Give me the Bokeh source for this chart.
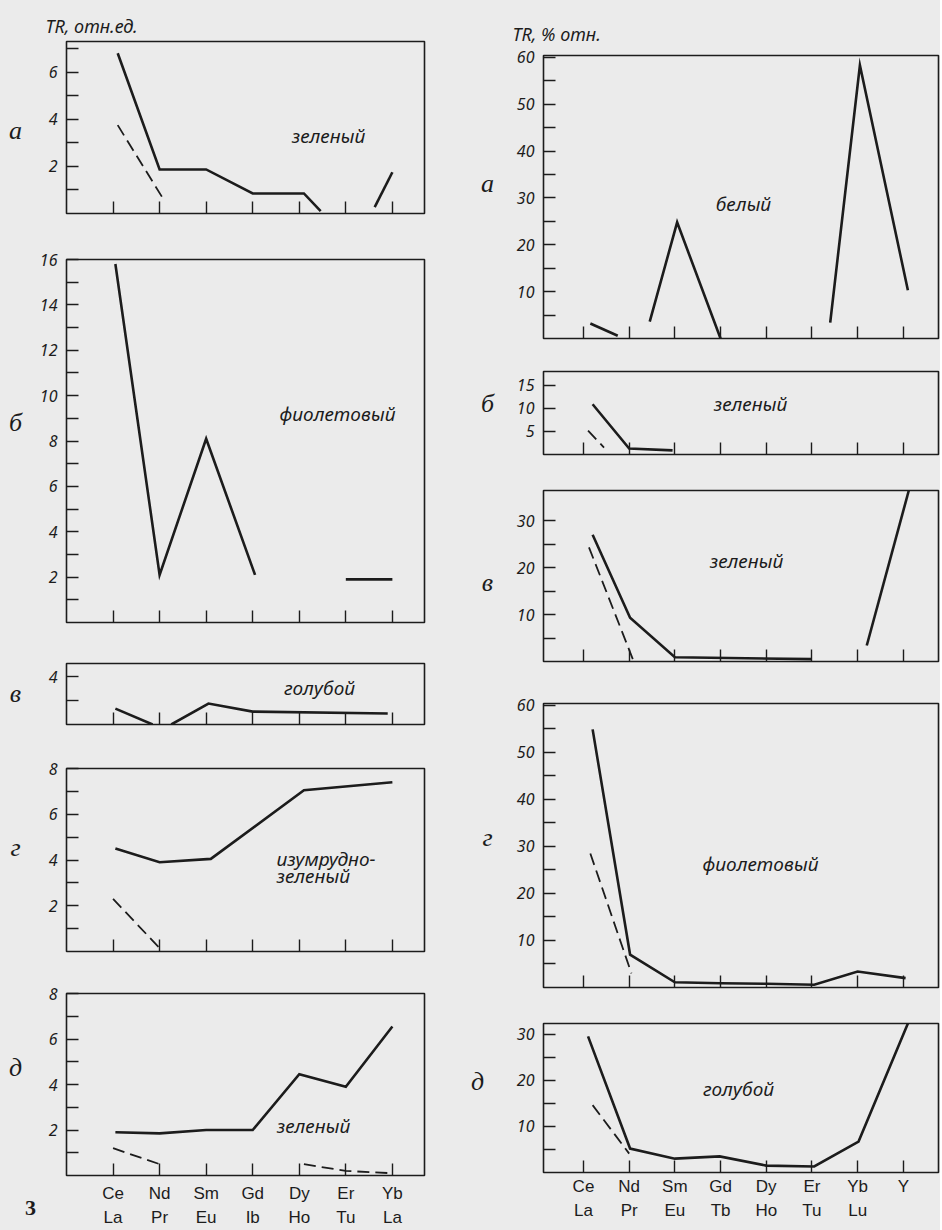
from bokeh.plotting import figure
from bokeh.layouts import row, column
from bokeh.models import FixedTicker, Label, Range1d, Title
from bokeh.embed import file_html
from bokeh.resources import INLINE

# ---------------- data ----------------
cats_left = ["Ce\nLa", "Nd\nPr", "Sm\nEu", "Gd\nIb", "Dy\nHo", "Er\nTu", "Yb\nLa"]
cats_right = ["Ce\nLa", "Nd\nPr", "Sm\nEu", "Gd\nTb", "Dy\nHo", "Er\nTu", "Yb\nLu", "Y"]

# Left column: TR, relative units.  Each series = list of (element positions, values) segments
left_a_solid = [([1.1, 2.0, 3.0, 4.0, 5.1, 5.46], [6.8, 1.87, 1.87, 0.85, 0.85, 0.1]),
                ([6.62, 7.0], [0.27, 1.75])]
left_a_dash = [([1.1, 2.1], [3.75, 0.55])]

left_b_solid = [([1.05, 2.0, 3.0, 4.05], [15.8, 2.1, 8.1, 2.1]),
                ([6.0, 7.0], [1.9, 1.9])]
left_b_dash = []

left_v_solid = [([1.05, 1.85], [1.33, 0.0]),
                ([2.25, 3.05, 4.0, 6.9], [0.0, 1.75, 1.08, 0.92])]
left_v_dash = []

left_g_solid = [([1.05, 2.0, 3.1, 5.1, 7.0], [4.5, 3.9, 4.05, 7.05, 7.4])]
left_g_dash = [([1.0, 2.0], [2.3, 0.15])]

left_d_solid = [([1.05, 2.0, 3.0, 4.0, 5.0, 6.0, 7.0], [1.9, 1.85, 2.0, 2.0, 4.45, 3.9, 6.55])]
left_d_dash = [([1.0, 2.0], [1.2, 0.5]),
               ([5.1, 6.0, 7.0], [0.5, 0.2, 0.1])]

# Right column: TR, % rel.
right_a_solid = [([1.15, 1.75], [3.2, 0.6]),
                 ([2.45, 3.05, 4.0], [3.6, 24.8, 0.0]),
                 ([6.4, 7.05, 8.1], [3.4, 58.3, 10.3])]
right_a_dash = []

right_b_solid = [([1.2, 2.0, 2.95], [10.9, 1.3, 0.9])]
right_b_dash = [([1.1, 1.45], [5.2, 1.5])]

right_v_solid = [([1.2, 2.02, 3.0, 6.0], [27.0, 9.3, 0.9, 0.5]),
                 ([7.2, 8.12], [3.4, 36.4])]
right_v_dash = [([1.12, 2.1], [24.3, 0.0])]

right_g_solid = [([1.2, 2.02, 3.0, 4.0, 5.0, 6.05, 7.0, 8.05], [54.9, 7.0, 1.1, 0.9, 0.8, 0.6, 3.4, 2.0])]
right_g_dash = [([1.15, 2.05], [28.5, 3.0])]

right_d_solid = [([1.1, 2.02, 3.0, 3.98, 5.0, 6.05, 7.02, 8.1], [29.5, 5.2, 3.0, 3.5, 1.5, 1.3, 6.7, 32.3])]
right_d_dash = [([1.2, 2.0], [14.6, 4.1])]

# ---------------- style ----------------
INK = "#1c1c1c"
PAPER = "#ebebeb"
ITALIC_FONT = "Noto Sans"
LETTER_FONT = "Liberation Serif"
XLAB_FONT = "Liberation Sans"
H = 1230


def add_label(p, x, y, text, size="19px", font=ITALIC_FONT, style="italic", align="center"):
    p.add_layout(Label(x=x, y=y, x_units="screen", y_units="screen", text=text,
                       text_font=font, text_font_size=size, text_font_style=style,
                       text_align=align, text_baseline="middle", text_color=INK))


def gutter(width):
    g = figure(width=width, height=H, output_backend="svg", toolbar_location=None,
               x_range=Range1d(0, 1), y_range=Range1d(0, 1),
               x_axis_location=None, y_axis_location=None,
               min_border_left=0, min_border_right=0, min_border_top=0, min_border_bottom=0)
    g.grid.visible = False
    g.outline_line_color = None
    g.background_fill_color = PAPER
    g.border_fill_color = PAPER
    return g


def panel(cats, xr, yr, major, minor, solid, dash, width, height, borders, show_x, standoff=4):
    top, right, bottom, left = borders
    p = figure(width=width, height=height, output_backend="svg", toolbar_location=None,
               x_range=Range1d(*xr), y_range=Range1d(*yr),
               min_border_top=top, min_border_right=right,
               min_border_bottom=bottom, min_border_left=left)
    p.background_fill_color = PAPER
    p.border_fill_color = PAPER
    p.outline_line_color = INK
    p.outline_line_width = 1.6
    p.xgrid.visible = False
    p.ygrid.visible = False

    n = len(cats)
    xa = p.xaxis[0]
    xa.ticker = FixedTicker(ticks=list(range(1, n + 1)))
    xa.axis_line_color = None
    xa.major_tick_in = 12
    xa.major_tick_out = 0
    xa.minor_tick_line_color = None
    xa.major_tick_line_color = INK
    xa.major_tick_line_width = 1.4
    if show_x:
        xa.major_label_overrides = {i + 1: c for i, c in enumerate(cats)}
        xa.major_label_text_font = XLAB_FONT
        xa.major_label_text_font_size = "17px"
        xa.major_label_text_line_height = 1.3
        xa.major_label_text_color = INK
        xa.major_label_standoff = standoff
    else:
        xa.major_label_overrides = {i + 1: "" for i in range(n)}
        xa.major_label_text_font_size = "0px"
        xa.major_label_standoff = 0

    ya = p.yaxis[0]
    ya.ticker = FixedTicker(ticks=major, minor_ticks=minor)
    ya.axis_line_color = None
    ya.major_tick_in = 12
    ya.major_tick_out = 0
    ya.minor_tick_in = 12
    ya.minor_tick_out = 0
    ya.major_tick_line_color = INK
    ya.minor_tick_line_color = INK
    ya.major_tick_line_width = 1.4
    ya.minor_tick_line_width = 1.4
    ya.major_label_text_font = ITALIC_FONT
    ya.major_label_text_font_style = "italic"
    ya.major_label_text_font_size = "16px"
    ya.major_label_text_color = INK
    ya.major_label_standoff = 9

    if solid:
        p.multi_line([s[0] for s in solid], [s[1] for s in solid],
                     line_color=INK, line_width=2.6, line_join="miter")
    if dash:
        p.multi_line([s[0] for s in dash], [s[1] for s in dash],
                     line_color=INK, line_width=1.8, line_dash="12 6")
    return p


def header(p, text, offset, standoff):
    p.title = Title(text=text, align="left", offset=offset, standoff=standoff,
                    text_font=ITALIC_FONT, text_font_style="italic", text_font_size="18px",
                    text_color=INK, vertical_align="bottom")


LGW, RGW = 36, 35          # gutter widths
LW, RW = 470 - LGW, 470 - RGW
LX = (0.0, 7.69)
RX = (0.125, 8.77)
LB, RB = 65 - LGW, 543 - 470 - RGW   # left borders of the panels

# ---------- left column ----------
la = panel(cats_left, LX, (0, 7.3), [2, 4, 6], [1, 3, 5, 7], left_a_solid, left_a_dash,
           LW, 236, (41, 46, 23, LB), False)
header(la, "TR, отн.ед.", -21, 8)
add_label(la, 262, 78, "зеленый")

lb = panel(cats_left, LX, (0, 16), [2, 4, 6, 8, 10, 12, 14, 16], [1, 3, 5, 7, 9, 11, 13, 15],
           left_b_solid, left_b_dash, LW, 407, (23, 46, 21, LB), False)
add_label(lb, 271, 209, "фиолетовый")

lv = panel(cats_left, LX, (0, 5.1), [4], [2], left_v_solid, left_v_dash,
           LW, 103, (20, 46, 22, LB), False)
add_label(lv, 253, 37, "голубой")

lg = panel(cats_left, LX, (0, 8), [2, 4, 6, 8], [1, 3, 5, 7], left_g_solid, left_g_dash,
           LW, 225, (22, 46, 20, LB), False)
add_label(lg, 210, 93, "изумрудно-", align="left")
add_label(lg, 210, 76, "зеленый", align="left")

ld = panel(cats_left, LX, (0, 8), [2, 4, 6, 8], [1, 3, 5, 7], left_d_solid, left_d_dash,
           LW, 259, (22, 46, 55, LB), True, standoff=8)
add_label(ld, 247, 50, "зеленый")

gl = gutter(LGW)
for txt, gx, gy in [("а", 15, 130), ("б", 15, 422), ("в", 15, 693), ("г", 15, 847), ("д", 15, 1067)]:
    add_label(gl, gx, H - gy, txt, size="26px", font=LETTER_FONT)
add_label(gl, 30, H - 1207, "3", size="22px", font=LETTER_FONT, style="bold")

# ---------- right column ----------
ra = panel(cats_right, RX, (0, 60.4), [10, 20, 30, 40, 50, 60], [5, 15, 25, 35, 45, 55],
           right_a_solid, right_a_dash, RW, 355, (55, 2, 17, RB), False)
header(ra, "TR, % отн.", -31, 20)
add_label(ra, 200, 135, "белый")

rb = panel(cats_right, RX, (0, 18), [5, 10, 15], [], right_b_solid, right_b_dash,
           RW, 117, (16, 2, 18, RB), False)
add_label(rb, 207, 51, "зеленый")

rv = panel(cats_right, RX, (0, 36.4), [10, 20, 30], [5, 15, 25], right_v_solid, right_v_dash,
           RW, 210, (18, 2, 21, RB), False)
add_label(rv, 203, 101, "зеленый")

rg = panel(cats_right, RX, (0, 60.4), [10, 20, 30, 40, 50, 60], [5, 15, 25, 35, 45, 55],
           right_g_solid, right_g_dash, RW, 323, (21, 2, 18, RB), False)
add_label(rg, 217, 124, "фиолетовый")

rd = panel(cats_right, RX, (0, 32.3), [10, 20, 30], [5, 15, 25], right_d_solid, right_d_dash,
           RW, 225, (18, 2, 58, RB), True, standoff=4)
add_label(rd, 195, 84, "голубой")

gr = gutter(RGW)
for txt, gx, gy in [("а", 17, 183), ("б", 17, 403), ("в", 17, 582), ("г", 17, 837), ("д", 7, 1081)]:
    add_label(gr, gx, H - gy, txt, size="26px", font=LETTER_FONT)

bg = {"background-color": PAPER}
layout = row(gl, column(la, lb, lv, lg, ld, styles=bg), gr, column(ra, rb, rv, rg, rd, styles=bg),
             styles=bg)

open("out.html", "w").write(file_html(layout, INLINE))
